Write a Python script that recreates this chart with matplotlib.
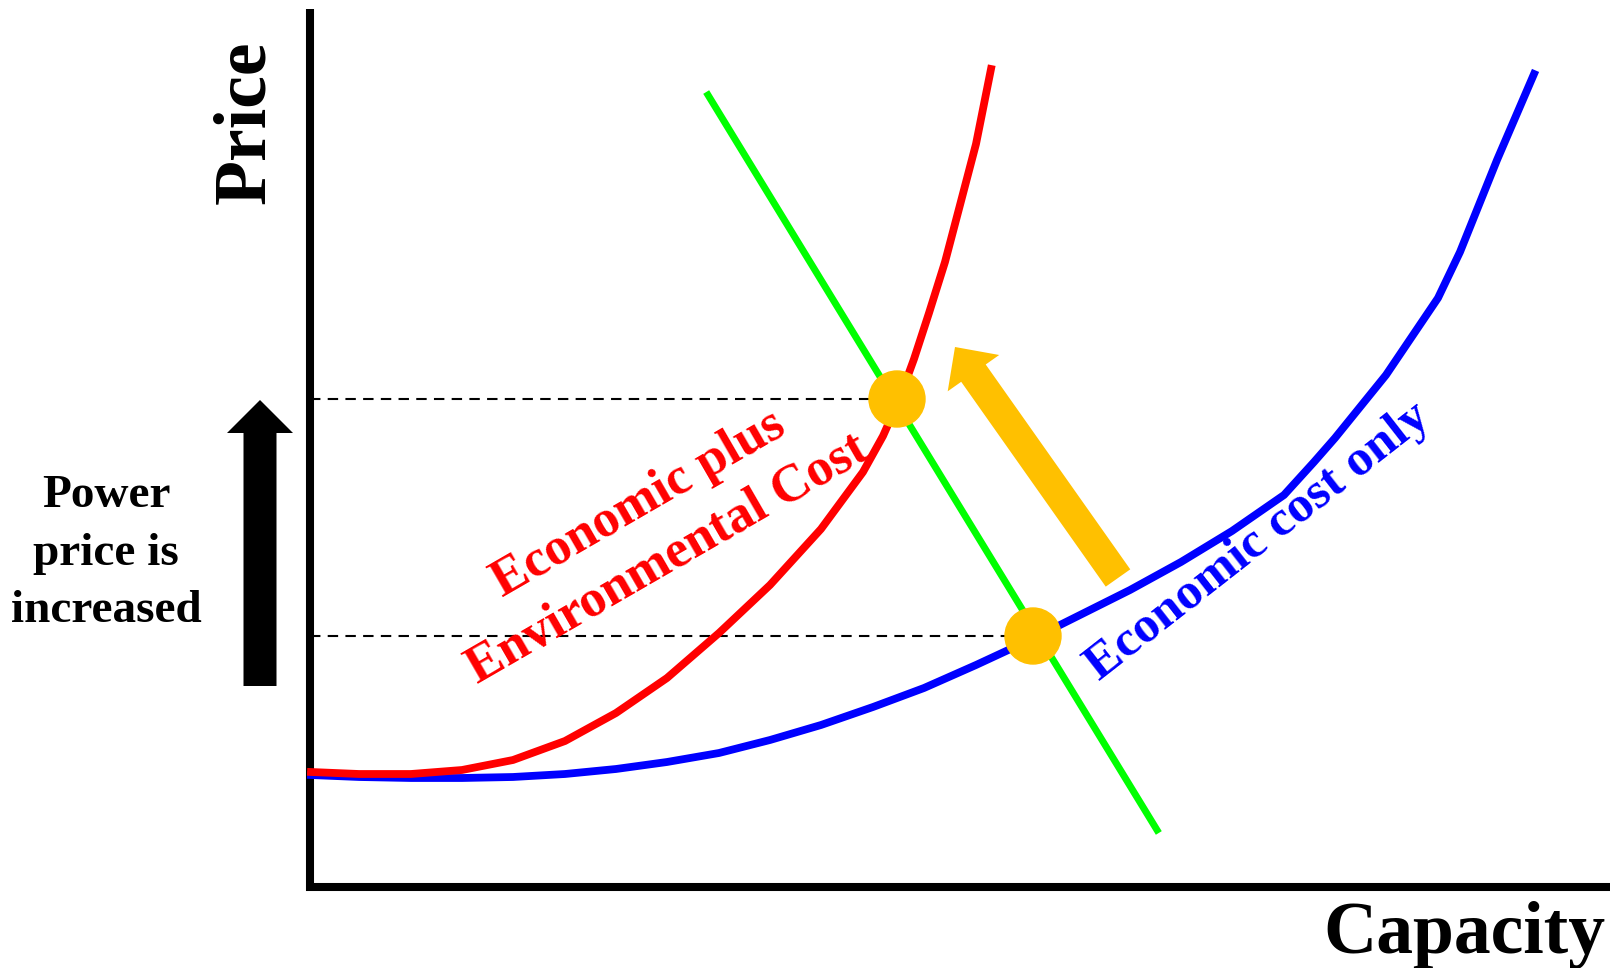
import matplotlib
matplotlib.use("Agg")
import matplotlib.pyplot as plt
from matplotlib.patches import FancyArrow, Circle

plt.rcParams['font.family'] = ['Liberation Serif', 'DejaVu Serif']
plt.rcParams['font.weight'] = 'bold'

# supply curve, economic cost only (capacity, price)
econ_cap = [1, 49, 101, 152, 203, 255, 306, 357, 409, 460, 511, 563, 614, 666,
            722, 768, 820, 871, 922, 974, 1004, 1025, 1076, 1128, 1150, 1187, 1224]
econ_price = [112, 110, 109, 109, 110, 113, 118, 125, 134, 147, 162, 180, 199,
              222, 248, 271, 297, 325, 356, 392, 425, 449, 512, 589, 635, 727, 813]

# supply curve, economic plus environmental cost
env_cap = [1, 49, 101, 152, 203, 255, 306, 357, 409, 460, 511, 553, 573, 589,
           604, 619, 635, 650, 666, 681]
env_price = [115, 113, 113, 117, 127, 146, 174, 209, 254, 302, 358, 415, 451,
             487, 528, 574, 625, 682, 743, 818]

# demand line
demand_cap = [398, 847]
demand_price = [792, 57]

# equilibrium points: with environmental cost, economic cost only
eq_cap = [587, 723]
eq_price = [488, 251]

fig = plt.figure(figsize=(16.1, 9.68), dpi=100)
ax = fig.add_axes([0, 0, 1, 1])
ax.set_xlim(-310, 1300)
ax.set_ylim(-81, 887)
ax.axis('off')

# axes
ax.plot([0, 0], [-4, 878], color='black', lw=5.8, solid_capstyle='butt')
ax.plot([-4, 1300], [0, 0], color='black', lw=5.8, solid_capstyle='butt')

# price levels
for c, p in zip(eq_cap, eq_price):
    ax.plot([0, c], [p, p], color='black', lw=1.5, dashes=(5, 3.5), zorder=2)

ax.plot(demand_cap, demand_price, color='#00FF00', lw=5, zorder=3)
ax.plot(econ_cap, econ_price, color='#0000FF', lw=5.6, zorder=3,
        solid_joinstyle='round')
ax.plot(env_cap, env_price, color='#FF0000', lw=5.6, zorder=4,
        solid_joinstyle='round')

for c, p in zip(eq_cap, eq_price):
    ax.add_patch(Circle((c, p), 28, color='#FFC000', zorder=5))

# shift arrow
ax.add_patch(FancyArrow(808, 309, -163, 231, width=30, head_width=63,
                        head_length=32, length_includes_head=True,
                        color='#FFC000', lw=0, zorder=5))

# price increase arrow
ax.add_patch(FancyArrow(-50, 201, 0, 286, width=33, head_width=66,
                        head_length=33, length_includes_head=True,
                        color='black', lw=0, zorder=5))

ax.text(-64, 765, 'Price', rotation=90, fontsize=53, ha='center', va='center')
ax.text(1154, -66, 'Capacity', fontsize=53, ha='center', va='baseline')

for txt, y in zip(['Power', 'price is', 'increased'], [380, 322, 265]):
    ax.text(-204, y, txt, fontsize=34, ha='center', va='baseline')

ax.text(329, 383, 'Economic plus', color='#FF0000', fontsize=38, rotation=30,
        rotation_mode='anchor', ha='center', va='center', zorder=6)
ax.text(358, 328, 'Environmental Cost', color='#FF0000', fontsize=38, rotation=30,
        rotation_mode='anchor', ha='center', va='center', zorder=6)
ax.text(948, 345, 'Economic cost only', color='#0000FF', fontsize=37, rotation=38,
        rotation_mode='anchor', ha='center', va='center', zorder=6)

fig.savefig('out.png', dpi=100)
